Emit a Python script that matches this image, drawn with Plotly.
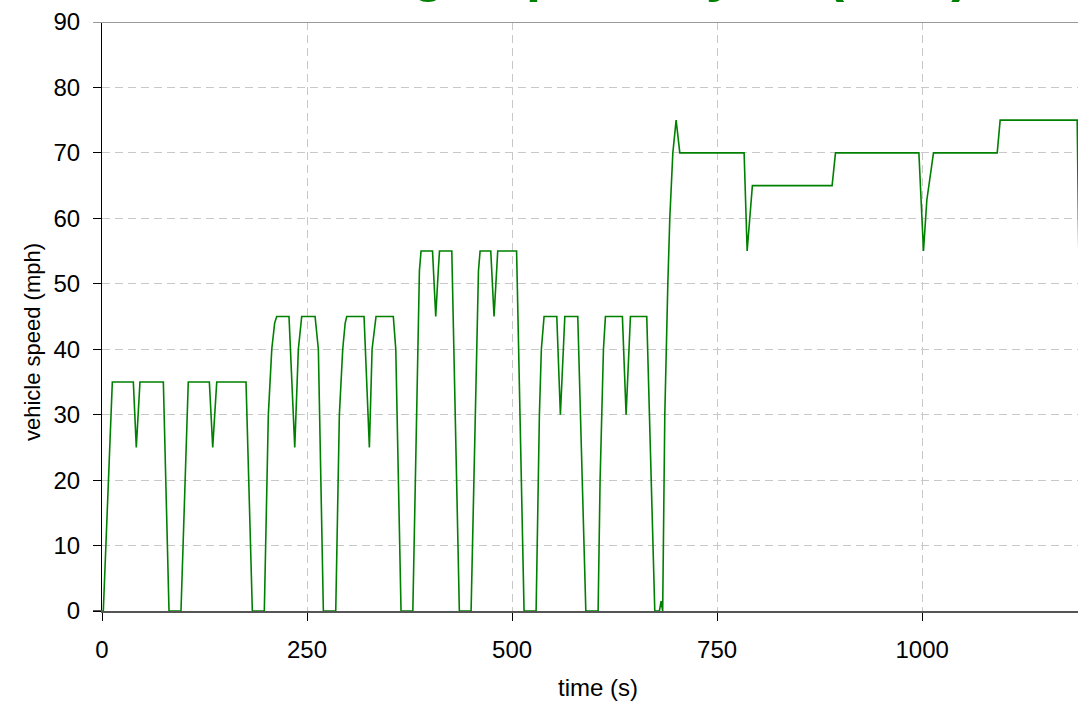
import plotly.graph_objects as go

# time (s) and vehicle speed (mph)
time_s = [0, 1.6, 12.6, 38.2, 41.8, 46.3, 74.8, 81.7, 96.3, 105.2, 130.9, 135, 139.9,
          175.6, 183.3, 197.9, 202.8, 207, 210.5, 213, 228, 235, 239.4, 243.5, 259.8,
          263.8, 269.9, 285, 289.4, 293.5, 296.5, 298.4, 319.5, 326, 329.3, 334.1,
          355.2, 358.2, 364.6, 379, 387, 389, 403, 406.9, 410, 411.5, 426.5, 435.7,
          450, 459, 461, 474, 478, 481.3, 482.5, 505.5, 514.6, 529.3, 533.3, 535.7,
          539, 554.5, 558.9, 564.3, 580.1, 589.9, 604.9, 607.3, 611.4, 613.8, 634.5,
          639, 644.3, 664.2, 674, 679.6, 681.7, 683.6, 684.9, 686.2, 689.9, 692.3,
          696, 700, 704.5, 782.9, 786.6, 790.2, 793, 890.2, 894.3, 996, 1001.6,
          1005.7, 1013.8, 1091.5, 1095.1, 1189, 1196.5]
speed_mph = [0, 0, 35, 35, 25, 35, 35, 0, 0, 35, 35, 25, 35,
             35, 0, 0, 30, 40, 44, 45, 45, 25, 40, 45, 45,
             40, 0, 0, 30, 40, 44, 45, 45, 25, 40, 45,
             45, 40, 0, 0, 52, 55, 55, 45, 52, 55, 55, 0,
             0, 52, 55, 55, 45, 52, 55, 55, 0, 0, 30, 40,
             45, 45, 30, 45, 45, 0, 0, 20, 40, 45, 45,
             30, 45, 45, 0, 0, 1.5, 0, 20, 30, 50, 60,
             70, 75, 70, 70, 55, 60, 65, 65, 70, 70, 55,
             62.8, 70, 70, 75, 75, 0]

x_ticks = [0, 250, 500, 750, 1000]
y_ticks = [0, 10, 20, 30, 40, 50, 60, 70, 80, 90]

title_text = "Range Speed Cycle (EPA)"
x_title = "time (s)"
y_title = "vehicle speed (mph)"

FONT = "Arial, Liberation Sans, sans-serif"
GRID = "#c8c8c8"

fig = go.Figure()
fig.add_trace(go.Scatter(x=time_s, y=speed_mph, mode="lines",
                         line=dict(color="#008000", width=1.6),
                         showlegend=False, hoverinfo="skip"))

fig.update_layout(
    width=1078, height=702,
    margin=dict(l=102, r=0, t=22, b=91, pad=0),
    paper_bgcolor="white", plot_bgcolor="white",
    font=dict(family=FONT, size=24, color="black"),
    xaxis=dict(range=[0, 1190], tickvals=x_ticks, ticktext=[str(v) for v in x_ticks],
               showgrid=True, gridcolor=GRID, gridwidth=1, griddash="8px,5px",
               ticks="outside", ticklen=8, tickcolor="black", tickwidth=1,
               showline=True, linecolor="#555555", linewidth=2, zeroline=False,
               tickfont=dict(family=FONT, size=24, color="black"),
               ticklabelstandoff=8),
    yaxis=dict(range=[0, 90], tickvals=y_ticks, ticktext=[str(v) for v in y_ticks],
               showgrid=True, gridcolor=GRID, gridwidth=1, griddash="8px,5px",
               ticks="outside", ticklen=8, tickcolor="black", tickwidth=1,
               showline=True, linecolor="black", linewidth=1, zeroline=False,
               tickfont=dict(family=FONT, size=24, color="black"),
               ticklabelstandoff=8),
    shapes=[
        dict(type="line", xref="paper", yref="y", x0=-9 / 976, x1=1, y0=90, y1=90,
             line=dict(color="#999999", width=2), layer="above"),
        dict(type="line", xref="paper", yref="y", x0=-9 / 976, x1=0, y0=0, y1=0,
             line=dict(color="#555555", width=2), layer="above"),
    ],
    annotations=[
        dict(text="<b>" + title_text + "</b>", xref="paper", yref="paper",
             x=0.211, y=1, xanchor="left", yanchor="bottom", yshift=17.5,
             showarrow=False, font=dict(family=FONT, size=54, color="#008000")),
        dict(text=x_title, xref="paper", yref="paper", x=0.5082, y=-0.1307,
             xanchor="center", yanchor="middle", showarrow=False,
             font=dict(family=FONT, size=24, color="black")),
        dict(text=y_title, xref="paper", yref="paper", x=-0.0717, y=0.4567,
             xanchor="center", yanchor="middle", textangle=-90, showarrow=False,
             font=dict(family=FONT, size=22, color="black")),
    ],
)

fig.write_html("out.html")
